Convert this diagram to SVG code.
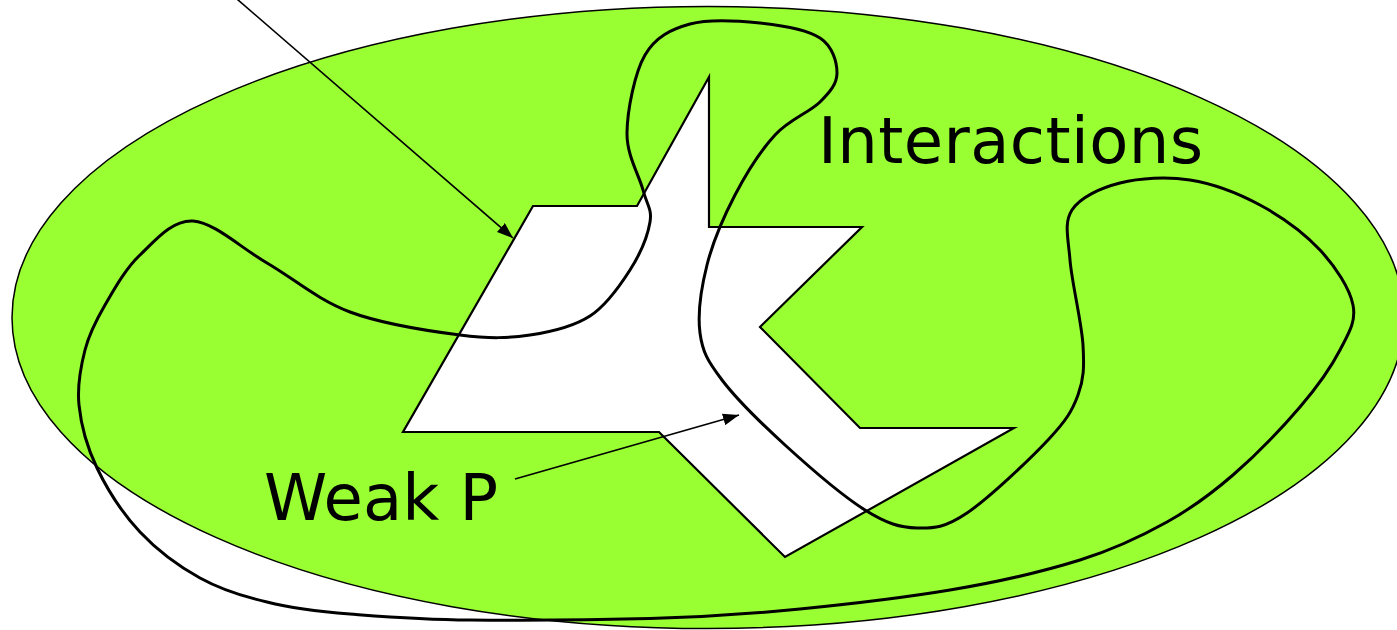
<svg xmlns="http://www.w3.org/2000/svg" width="1397" height="630" viewBox="0 0 1397 630">
<style>
.ell{fill:#99FF33;stroke:#000;stroke-width:1.5}
.poly{fill:#fff;stroke:#000;stroke-width:2.2;stroke-linejoin:miter}
.curve{fill:none;stroke:#000;stroke-width:3}
.conn{fill:none;stroke:#000;stroke-width:1.6}
.lbl{font-family:"DejaVu Sans","Verdana",sans-serif;font-size:64px;fill:#000}
</style>
<defs>
<marker id="ah" viewBox="0 0 16 12" refX="16" refY="6" markerWidth="16" markerHeight="12" markerUnits="userSpaceOnUse" orient="auto">
<path d="M0,0 L16,6 L0,12 z" fill="#000"/>
</marker>
</defs>
<g id="interactions-region">
<ellipse class="ell" cx="708" cy="317.5" rx="696" ry="311"/>
</g>
<g id="strong-shape">
<polygon class="poly" points="709,77 709,227 862,227 760,327 860,428 1014,428 785,557 659,432 403,432 533,206 637,206"/>
</g>
<g id="weak-boundary">
<path class="curve" d="M193,221 C214.2,222.3 240.8,247.8 267,263 C293.2,278.2 317.8,300 350,312 C382.2,324 430,331.2 460,335 C490,338.8 508.3,338.2 530,335 C551.7,331.8 573.3,326.8 590,316 C606.7,305.2 620,285.7 630,270 C640,254.3 647.8,235.3 650,222 C652.2,208.7 646.8,204.8 643,190 C639.2,175.2 626.7,155.5 627,133 C627.3,110.5 634.5,73.2 645,55 C655.5,36.8 670.8,29.3 690,24 C709.2,18.7 738.3,20.7 760,23 C781.7,25.3 807.2,29.7 820,38 C832.8,46.3 837,62.3 837,73 C837,83.7 830.3,91.7 820,102 C809.7,112.3 789.2,119.5 775,135 C760.8,150.5 746.3,173.3 735,195 C723.7,216.7 712.8,242 707,265 C701.2,288 697.5,313.8 700,333 C702.5,352.2 707.8,361.3 722,380 C736.2,398.7 761.2,423.3 785,445 C808.8,466.7 843,496.2 865,510 C887,523.8 900,527.5 917,528 C934,528.5 945.2,527.7 967,513 C988.8,498.3 1029.5,459.7 1048,440 C1066.5,420.3 1072.2,410.8 1078,395 C1083.8,379.2 1084.3,367.5 1083,345 C1081.7,322.5 1071.8,282.5 1070,260 C1068.2,237.5 1063.7,222.8 1072,210 C1080.3,197.2 1100.3,188 1120,183 C1139.7,178 1166.7,176.3 1190,180 C1213.3,183.7 1238.3,193.3 1260,205 C1281.7,216.7 1304.5,233.3 1320,250 C1335.5,266.7 1349.7,288.3 1353,305 C1356.3,321.7 1348.8,333 1340,350 C1331.2,367 1317.8,386.2 1300,407 C1282.2,427.8 1255.2,455.8 1233,475 C1210.8,494.2 1192.5,507.8 1167,522 C1141.5,536.2 1116.2,548.7 1080,560 C1043.8,571.3 996.7,582.2 950,590 C903.3,597.8 850,604 800,609 C750,614 705,617 650,618.5 C595,620 520,620.5 470,620 C420,619.5 383.8,616.5 350,614 C316.2,611.5 292,608.5 267,602 C242,596.3 221.2,589.7 200,578 C178.8,566.3 157.2,550.3 140,532 C122.8,513.7 107.2,489.2 97,468 C86.8,446.8 81,424.7 79,405 C77,385.3 80.7,366.7 85,350 C89.3,333.3 95.8,320.8 105,305 C114.2,289.2 125.3,269 140,255 C154.7,241 171.8,219.7 193,221 Z"/>
</g>
<g id="connectors">
<line class="conn" x1="230" y1="-7" x2="513" y2="238" marker-end="url(#ah)"/>
<line class="conn" x1="515" y1="479" x2="739" y2="415" marker-end="url(#ah)"/>
</g>
<g id="label-interactions">
<text class="lbl" x="818" y="163" textLength="385" lengthAdjust="spacing">Interactions</text>
</g>
<g id="label-weak">
<text class="lbl" x="264" y="520">Weak P</text>
</g>
</svg>
